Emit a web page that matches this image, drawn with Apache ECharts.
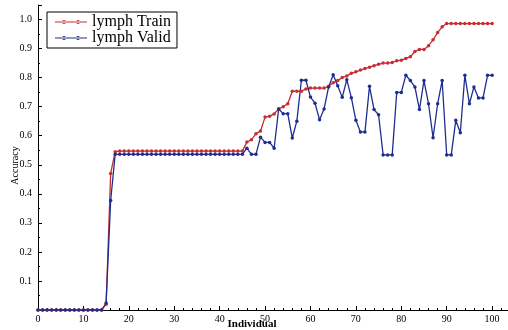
<!DOCTYPE html>
<html><head><meta charset="utf-8">
<script src="https://cdn.jsdelivr.net/npm/echarts@6/dist/echarts.min.js"></script>
<style>html,body{margin:0;padding:0;background:#fff}#c{width:508px;height:330px}</style>
</head><body><div id="c"></div>
<script>
const individuals = Array.from({length: 101}, (_, i) => i);
const trainAcc = [
  0,0,0,0,0,0,0,0,0,0, 0,0,0,0,0,0.02,0.47,0.545,0.547,0.547,
  0.547,0.547,0.547,0.547,0.547,0.547,0.547,0.547,0.547,0.547,
  0.547,0.547,0.547,0.547,0.547,0.547,0.547,0.547,0.547,0.547,
  0.547,0.547,0.547,0.547,0.547,0.547,0.578,0.586,0.607,0.616,
  0.664,0.667,0.675,0.692,0.700,0.710,0.753,0.753,0.753,0.761,
  0.764,0.764,0.764,0.764,0.770,0.782,0.790,0.800,0.806,0.815,
  0.820,0.826,0.831,0.836,0.841,0.846,0.850,0.850,0.852,0.858,
  0.860,0.866,0.872,0.890,0.897,0.897,0.910,0.930,0.955,0.975,
  0.986,0.986,0.986,0.986,0.986,0.986,0.986,0.986,0.986,0.986,0.986
];
const validAcc = [
  0,0,0,0,0,0,0,0,0,0, 0,0,0,0,0,0.024,0.377,0.536,0.536,0.536,
  0.536,0.536,0.536,0.536,0.536,0.536,0.536,0.536,0.536,0.536,
  0.536,0.536,0.536,0.536,0.536,0.536,0.536,0.536,0.536,0.536,
  0.536,0.536,0.536,0.536,0.536,0.536,0.557,0.536,0.536,0.595,
  0.577,0.577,0.557,0.692,0.676,0.676,0.592,0.650,0.791,0.791,
  0.733,0.712,0.655,0.692,0.768,0.810,0.772,0.732,0.793,0.731,
  0.653,0.613,0.613,0.770,0.690,0.672,0.534,0.534,0.534,0.749,
  0.749,0.808,0.790,0.768,0.690,0.790,0.710,0.593,0.710,0.790,
  0.534,0.534,0.653,0.610,0.808,0.710,0.768,0.730,0.730,0.808,0.808
];
const seriesNames = ['lymph Train', 'lymph Valid'];
const seriesColors = ['#c62e33', '#1f2d8f'];

const chart = echarts.init(document.getElementById('c'), null, {renderer: 'canvas'});
const serif = '"Liberation Serif", "DejaVu Serif", serif';
const legendIcon = 'path://M0,1.6 L32,1.6 L32,2.4 L0,2.4 Z M7,2 a2,2 0 1,0 4,0 a2,2 0 1,0 -4,0 Z M21,2 a2,2 0 1,0 4,0 a2,2 0 1,0 -4,0 Z';
const mk = (name, vals, color) => ({
  name, type: 'line',
  data: individuals.map((x, i) => [x, vals[i]]),
  symbol: 'circle', symbolSize: 3.5, showSymbol: true,
  lineStyle: {color, width: 1.3},
  itemStyle: {color},
  animation: false
});
chart.setOption({
  backgroundColor: '#fff',
  animation: false,
  grid: {left: 38, right: 0, top: 5, bottom: 20, containLabel: false, outerBoundsMode: 'none'},
  legend: {
    orient: 'vertical', left: 47, top: 12,
    data: seriesNames.map(n => ({name: n, icon: legendIcon})),
    backgroundColor: '#fff', borderColor: '#000', borderWidth: 1,
    padding: [2, 6, 2, 8], itemGap: 0, itemWidth: 32, itemHeight: 4,
    textStyle: {fontFamily: serif, fontSize: 16, color: '#000', lineHeight: 16}
  },
  xAxis: {
    type: 'value', min: 0, max: 103.5, interval: 10,
    name: 'Individual', nameLocation: 'middle', nameGap: 9, nameMoveOverlap: false,
    nameTextStyle: {fontFamily: serif, fontSize: 11, color: '#000', fontWeight: 'bold', padding: [0, 42, 0, 0]},
    axisLine: {lineStyle: {color: '#000', width: 1}},
    axisTick: {inside: true, length: 4, lineStyle: {color: '#000'}},
    minorTick: {show: true, splitNumber: 5, length: 2, lineStyle: {color: '#000'}},
    axisLabel: {fontFamily: serif, fontSize: 10, color: '#000', margin: 4,
      formatter: v => v > 100 ? '' : String(v)},
    splitLine: {show: false}
  },
  yAxis: {
    type: 'value', min: 0, max: 1.05, interval: 0.1,
    name: 'Accuracy', nameLocation: 'middle', nameGap: 18, nameMoveOverlap: false,
    nameTextStyle: {fontFamily: serif, fontSize: 10, color: '#000', padding: [0, 16, 0, 0]},
    axisLine: {show: true, lineStyle: {color: '#000', width: 1}},
    axisTick: {inside: true, length: 4, lineStyle: {color: '#000'}},
    minorTick: {show: true, splitNumber: 2, length: 2, lineStyle: {color: '#000'}},
    axisLabel: {fontFamily: serif, fontSize: 10, color: '#000', margin: 6,
      formatter: v => (v < 0.05 || v > 1.01) ? '' : v.toFixed(1)},
    splitLine: {show: false}
  },
  series: [
    mk(seriesNames[0], trainAcc, seriesColors[0]),
    mk(seriesNames[1], validAcc, seriesColors[1])
  ]
});
</script></body></html>
